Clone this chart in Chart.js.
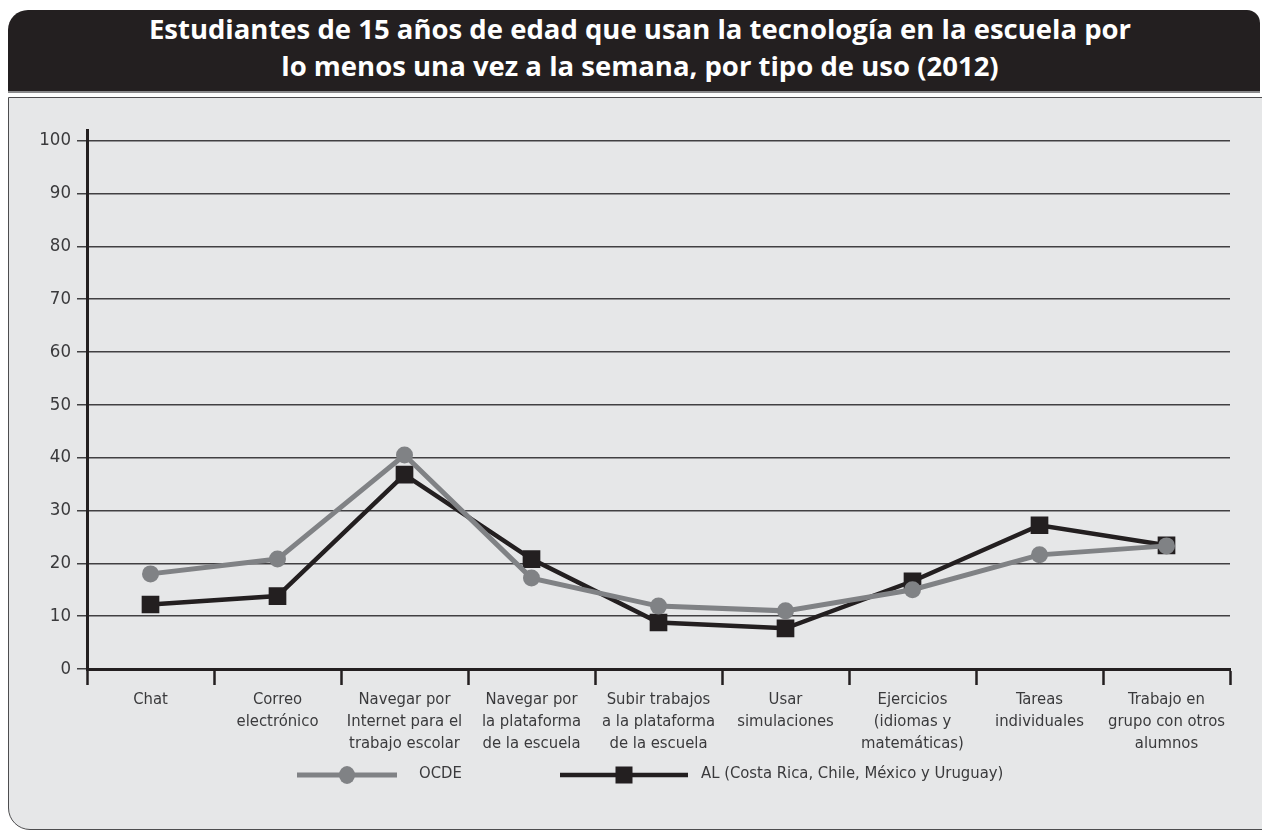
<!DOCTYPE html>
<html>
<head>
<meta charset="utf-8">
<script src="https://cdn.jsdelivr.net/npm/chart.js@4"></script>
<style>
  html, body { margin: 0; padding: 0; background: #fff; }
  body { width: 1262px; height: 831px; position: relative; overflow: hidden; }
  #header {
    position: absolute; left: 8px; top: 10px; width: 1252px; height: 81px;
    background: #231f20; border-top-left-radius: 20px; border-top-right-radius: 13px;
    border-bottom: 2px solid #8a8a8c;
  }
  #title {
    position: absolute; left: 0; top: 10px; width: 1280px; text-align: center;
    color: #fff; font-family: "Open Sans", sans-serif; font-weight: 700;
    font-size: 27.5px; line-height: 37px;
  }
  #panel {
    position: absolute; left: 8px; top: 97px; width: 1270px; height: 731px;
    background: #e6e7e8; border: 1.5px solid #4d4d4f; border-bottom-left-radius: 22px;
  }
  #luxChart { position: absolute; left: 0; top: 96px; }
</style>
</head>
<body>
<div id="header"></div>
<div id="title">Estudiantes de 15 años de edad que usan la tecnología en la escuela por<br>lo menos una vez a la semana, por tipo de uso (2012)</div>
<div id="panel"></div>
<canvas id="luxChart" width="1262" height="735"></canvas>
<script>
const categories = [
  ["Chat"],
  ["Correo", "electrónico"],
  ["Navegar por", "Internet para el", "trabajo escolar"],
  ["Navegar por", "la plataforma", "de la escuela"],
  ["Subir trabajos", "a la plataforma", "de la escuela"],
  ["Usar", "simulaciones"],
  ["Ejercicios", "(idiomas y", "matemáticas)"],
  ["Tareas", "individuales"],
  ["Trabajo en", "grupo con otros", "alumnos"]
];
const ocde = [18.0, 20.8, 40.5, 17.2, 11.9, 11.0, 15.0, 21.6, 23.3];
const al = [12.2, 13.8, 36.8, 20.8, 8.8, 7.7, 16.6, 27.2, 23.4];
const seriesNames = ["OCDE", "AL (Costa Rica, Chile, México y Uruguay)"];
const yTicks = [0, 10, 20, 30, 40, 50, 60, 70, 80, 90, 100];

const FONT = "'Liberation Sans Narrow', 'DejaVu Sans Condensed', sans-serif";
const GRAY = "#808285";
const DARK = "#231f20";
const TEXT = "#3a3a3c";

// leyenda dibujada a mano: línea + marcador + texto
const legendPlugin = {
  id: "legendLine",
  afterDraw(chart) {
    const ctx = chart.ctx;
    const y = 679;
    const items = [
      { x: 297, len: 100, gap: 22, ds: chart.data.datasets[0] },
      { x: 560, len: 128, gap: 13, ds: chart.data.datasets[1] }
    ];
    ctx.save();
    items.forEach(it => {
      const cx = it.x + it.len / 2;
      ctx.strokeStyle = it.ds.borderColor;
      ctx.lineWidth = it.ds.borderWidth;
      ctx.beginPath();
      ctx.moveTo(it.x, y);
      ctx.lineTo(it.x + it.len, y);
      ctx.stroke();
      ctx.fillStyle = it.ds.pointBackgroundColor;
      if (it.ds.pointStyle === "circle") {
        ctx.beginPath();
        ctx.ellipse(cx, y, 8, 9, 0, 0, Math.PI * 2);
        ctx.fill();
      } else {
        ctx.fillRect(cx - 8.5, y - 8.5, 17, 17);
      }
      ctx.fillStyle = TEXT;
      ctx.font = "16.5px " + FONT;
      ctx.textBaseline = "middle";
      ctx.fillText(it.ds.label, it.x + it.len + it.gap, y - 1);
    });
    ctx.restore();
  }
};

const ctx = document.getElementById("luxChart").getContext("2d");
new Chart(ctx, {
  type: "line",
  data: {
    labels: categories,
    datasets: [{
      label: seriesNames[0],
      data: ocde,
      borderColor: GRAY,
      backgroundColor: GRAY,
      pointBackgroundColor: GRAY,
      pointBorderColor: GRAY,
      borderWidth: 5,
      pointStyle: "circle",
      pointRadius: 8.5,
      pointBorderWidth: 0,
      tension: 0
    }, {
      label: seriesNames[1],
      data: al,
      borderColor: DARK,
      backgroundColor: DARK,
      pointBackgroundColor: DARK,
      pointBorderColor: DARK,
      borderWidth: 4.5,
      pointStyle: "rect",
      pointRadius: 12.5,
      pointBorderWidth: 0,
      tension: 0
    }]
  },
  options: {
    responsive: false,
    animation: false,
    layout: { padding: { left: 0, right: 32, top: 34, bottom: 0 } },
    plugins: { legend: { display: false }, tooltip: { enabled: false } },
    scales: {
      x: {
        offset: true,
        afterFit(scale) { scale.height = 162; },
        grid: { offset: true, drawOnChartArea: false, drawTicks: true, tickLength: 16, tickWidth: 2.5, tickColor: DARK },
        border: { display: true, color: DARK, width: 3 },
        ticks: { color: TEXT, font: { family: FONT, size: 16.5, lineHeight: 1.33 }, padding: 4, maxRotation: 0, autoSkip: false }
      },
      y: {
        min: 0,
        max: 102,
        afterFit(scale) { scale.width = 87; },
        afterBuildTicks(scale) { scale.ticks = yTicks.map(v => ({ value: v })).concat([{ value: 102 }]); },
        grid: {
          color: c => (c.tick && c.tick.value > 100) ? "rgba(0,0,0,0)" : "#414042",
          lineWidth: 1.5,
          tickLength: 10,
          tickWidth: 1.5,
          tickColor: c => (c.tick && c.tick.value > 100) ? "rgba(0,0,0,0)" : "#414042"
        },
        border: { display: true, color: DARK, width: 3 },
        ticks: {
          color: TEXT,
          font: { family: FONT, size: 18.5 },
          padding: 6,
          callback: v => (v > 100 ? "" : v)
        }
      }
    }
  },
  plugins: [legendPlugin]
});
</script>
</body>
</html>
